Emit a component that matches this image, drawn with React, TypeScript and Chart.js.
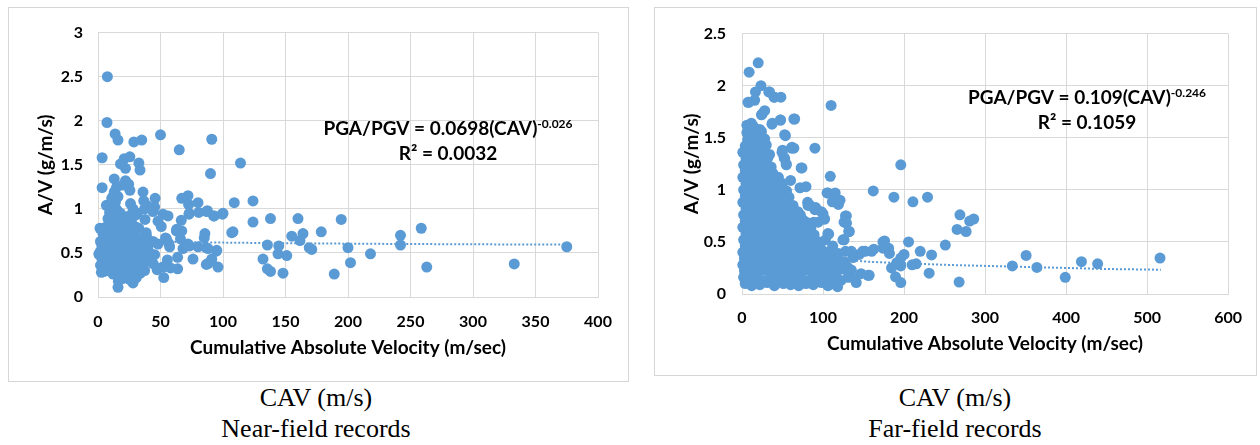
import React, { useEffect, useRef } from "react";
import { Chart, registerables } from "chart.js";

Chart.register(...registerables);

const BLUE = "#5B9BD5";
const GRID = "#D9D9D9";
const FONT = "Lato, 'Open Sans', sans-serif";
const SERIF = "'Liberation Serif', 'Times New Roman', serif";

type P = [number, number];

// ---------- Near-field records (CAV, A/V) ----------
const nearField: P[] = [
  [7.5, 2.5], [7.2, 1.98], [3.3, 1.58], [3.3, 1.24], [13.7, 1.85], [16, 1.78], [28.7, 1.76], [35, 1.78],
  [50, 1.84], [65, 1.67], [91, 1.79], [90, 1.4], [114, 1.52], [32.7, 1.52], [33.6, 1.44], [21, 1.57],
  [25.5, 1.59], [18, 1.51], [22, 1.46], [13, 1.34], [22, 1.32], [24.5, 1.28], [14.7, 1.24], [25.5, 1.21],
  [36, 1.19], [45.7, 1.12], [36.6, 1.09], [26, 1.06], [67, 1.12], [72, 1.15], [72.5, 1.05], [80, 1.07],
  [109, 1.07], [124, 1.09], [100, 0.95], [93, 0.92], [87.5, 0.98], [80.6, 0.96], [73, 0.95], [66.6, 0.87],
  [56, 0.92], [52, 0.94], [44, 0.97], [39, 1.04], [48, 0.86], [50.6, 0.8], [37.6, 0.88], [30, 0.93],
  [124, 0.85], [138, 0.89], [160, 0.89], [194.6, 0.88], [258.6, 0.78], [242, 0.7], [242, 0.59], [375, 0.57],
  [333, 0.375], [263, 0.34], [218, 0.49], [202, 0.39], [200, 0.56], [189, 0.26], [178.6, 0.74], [171, 0.54],
  [169, 0.56], [164, 0.72], [161.6, 0.64], [155, 0.69], [151, 0.47], [148, 0.27], [144, 0.49], [144.6, 0.58],
  [135.5, 0.59], [132, 0.43], [135.5, 0.32], [138, 0.29], [108, 0.74], [96, 0.34], [95, 0.53], [91, 0.43],
  [88, 0.38], [86.5, 0.56], [85.5, 0.72], [85, 0.67], [76, 0.43], [80, 0.57], [72, 0.6], [68, 0.55],
  [67, 0.75], [63, 0.77], [63.7, 0.45], [63.7, 0.32], [56.5, 0.61], [54, 0.67], [55.5, 0.42], [52, 0.34],
  [52.6, 0.22], [47.3, 0.31], [44, 0.38], [42.4, 0.49], [39, 0.53], [38.5, 0.73], [36, 0.67], [32.6, 0.78],
  [28.7, 0.77], [29.4, 0.6], [32.6, 0.49], [34, 0.27], [27.8, 0.21], [28, 0.16], [19.6, 0.21], [16.3, 0.18],
  [16, 0.11], [11.4, 0.31], [5, 0.29], [0.7, 0.49], [1.6, 0.78], [3.3, 0.38], [8, 0.89], [10, 1.04],
  [12.4, 1.15], [62.7, 0.75], [54.7, 0.66], [57.3, 0.57], [66, 0.66], [73.3, 0.58], [90.7, 0.41], [86.7, 0.37],
  [94.7, 0.52], [88, 0.55], [48, 0.33], [54.7, 0.35], [58, 0.33], [45.3, 0.48], [44, 0.63], [48, 0.6],
  [38.7, 0.7], [33.3, 0.48], [37.3, 0.3], [30.7, 0.22], [25.3, 0.2], [20, 0.26], [12, 0.26], [6.7, 0.33],
  [2.7, 0.28], [1, 0.48], [6.7, 1.04], [11.5, 1.09], [20, 1.27], [28, 1.0], [31.5, 0.95], [30.7, 0.79],
  [37.3, 1.0], [45.3, 1.02], [72.8, 0.94], [99.5, 0.94], [107, 0.73], [92.5, 0.92], [87, 0.97], [9.3, 0.96],
  [13.3, 1.05],
  [4, 0.31], [9, 0.3], [14, 0.33], [18, 0.29], [23, 0.31], [27, 0.28], [31, 0.33],
  [2, 0.36], [6, 0.38], [11, 0.36], [15, 0.39], [20, 0.37], [24, 0.35], [29, 0.38], [34, 0.36], [38, 0.4],
  [3, 0.44], [7, 0.42], [10, 0.45], [13, 0.43], [17, 0.46], [21, 0.44], [26, 0.42], [30, 0.45], [35, 0.43], [40, 0.44],
  [2, 0.52], [5, 0.5], [9, 0.53], [12, 0.51], [15, 0.54], [19, 0.5], [22, 0.53], [27, 0.51], [31, 0.54], [36, 0.52],
  [3, 0.59], [6, 0.57], [10, 0.6], [13, 0.58], [17, 0.61], [21, 0.57], [24, 0.6], [28, 0.58], [33, 0.59], [40, 0.57],
  [2, 0.63], [5, 0.66], [8, 0.64], [12, 0.67], [16, 0.65], [19, 0.68], [23, 0.64], [26, 0.67], [31, 0.65],
  [4, 0.72], [7, 0.7], [11, 0.74], [14, 0.71], [18, 0.73], [22, 0.75], [25, 0.71], [29, 0.73],
  [6, 0.79], [10, 0.82], [13, 0.8], [16, 0.83], [20, 0.79], [24, 0.81], [27, 0.84],
  [11, 0.88], [14, 0.91], [17, 0.87], [21, 0.9], [25, 0.92],
  [12, 0.97], [15, 0.99], [18, 0.95],
  [11, 1.12], [14, 1.08], [16, 1.14], [13, 1.19],
];

// Power trendline of the near-field records
const nearTrendCAV = [1, 2, 5, 10, 25, 50, 100, 150, 200, 250, 300, 375];
const nearTrendAV = [0.7, 0.685, 0.67, 0.655, 0.64, 0.628, 0.617, 0.61, 0.605, 0.601, 0.598, 0.594];

// ---------- Far-field records (CAV, A/V) ----------
const farField: P[] = [
  [8.8, 2.13], [20, 2.22], [23.4, 2.0], [8.3, 1.84], [16.6, 1.94], [15.6, 1.86], [34, 1.94], [40, 1.89],
  [48, 1.89], [28, 1.76], [25, 1.73], [37.5, 1.64], [47.7, 1.67], [65, 1.68], [110, 1.81], [53.6, 1.52],
  [64, 1.4], [61, 1.4], [90, 1.4], [74, 1.21], [50, 1.38], [52, 1.31], [54.5, 1.25], [60, 1.09],
  [71.6, 1.02], [79, 1.03], [109, 1.13], [106, 0.97], [115, 0.97], [111.5, 0.885], [119, 0.86], [121, 0.9],
  [162, 0.99], [196, 1.24], [187.5, 0.93], [211, 0.885], [229, 0.93], [269, 0.76], [286, 0.72], [281, 0.7],
  [265.5, 0.62], [276.6, 0.6], [251, 0.47], [234, 0.375], [220, 0.41], [205.6, 0.5], [231, 0.2], [268, 0.115],
  [333.7, 0.27], [350.7, 0.37], [364, 0.255], [399, 0.16], [419, 0.31], [439, 0.29], [516, 0.345], [196, 0.11],
  [189.5, 0.165], [176, 0.51], [181, 0.44], [182, 0.39], [196, 0.345], [200, 0.38], [191, 0.3], [215, 0.29],
  [210, 0.28], [196, 0.27], [184.6, 0.25], [157, 0.18], [147, 0.195], [141, 0.11], [131.5, 0.165], [135, 0.23],
  [162.7, 0.43], [152, 0.41], [144.7, 0.38], [137, 0.35], [132.5, 0.6], [126, 0.52], [129, 0.68], [127.7, 0.75],
  [107, 0.575], [101, 0.72], [98, 0.79], [91, 0.83], [84, 0.85], [81, 0.88], [88.6, 0.69], [79, 0.63],
  [74, 0.72], [108, 0.41], [118, 0.32], [115.4, 0.2], [108, 0.09], [118, 0.07],
  [7.4, 1.84], [33, 1.94], [39.5, 1.89], [24, 1.72], [37, 1.63], [47.3, 1.67], [64, 1.68], [11.5, 1.64],
  [9.5, 1.59], [15.6, 1.56], [24, 1.56], [28, 1.49], [52.7, 1.53], [61.7, 1.41], [49.4, 1.36], [52.7, 1.3],
  [54.7, 1.24], [73, 1.21], [105, 0.97], [114, 0.96], [118.5, 0.88], [81.5, 0.85], [90, 0.81], [100, 0.77],
  [102, 0.72], [67, 0.75], [73, 0.69], [83.5, 0.68], [94, 0.69], [128.8, 0.75], [126, 0.69], [131.7, 0.6],
  [124.6, 0.52], [106, 0.58], [135, 0.41], [149, 0.41], [160, 0.41], [114, 0.38], [112, 0.35], [155.6, 0.18],
  [139, 0.146], [131, 0.16], [174, 0.5], [174, 0.44],
  [4, 0.1], [12, 0.08], [22, 0.09], [31, 0.11], [40, 0.08], [51, 0.1], [60, 0.09], [70, 0.08], [79, 0.1], [88, 0.09], [98, 0.11], [106, 0.08], [114, 0.1],
  [2, 0.16], [9, 0.14], [17, 0.15], [26, 0.13], [35, 0.16], [45, 0.15], [55, 0.14], [64, 0.16], [73, 0.15], [83, 0.13], [92, 0.16], [101, 0.14], [112, 0.15], [122, 0.13],
  [3, 0.22], [11, 0.2], [20, 0.21], [29, 0.23], [38, 0.2], [48, 0.22], [57, 0.21], [67, 0.19], [76, 0.22], [86, 0.21], [95, 0.2], [104, 0.22], [117, 0.21], [126, 0.24],
  [1, 0.28], [8, 0.26], [16, 0.27], [25, 0.29], [33, 0.26], [43, 0.28], [52, 0.27], [62, 0.25], [71, 0.28], [80, 0.27], [90, 0.26], [99, 0.28], [109, 0.27], [121, 0.29], [130, 0.26],
  [3, 0.34], [12, 0.32], [21, 0.33], [30, 0.35], [39, 0.32], [48, 0.34], [58, 0.33], [67, 0.31], [77, 0.34], [86, 0.33], [96, 0.32], [105, 0.34], [116, 0.33], [126, 0.31],
  [1, 0.4], [9, 0.38], [18, 0.39], [27, 0.41], [36, 0.38], [45, 0.4], [54, 0.39], [63, 0.37], [73, 0.4], [82, 0.39], [92, 0.38], [101, 0.4], [119, 0.39], [128, 0.41],
  [4, 0.46], [13, 0.44], [22, 0.45], [31, 0.47], [40, 0.44], [50, 0.46], [59, 0.45], [68, 0.43], [78, 0.46], [88, 0.45], [97, 0.44], [112, 0.46],
  [2, 0.52], [10, 0.5], [19, 0.51], [28, 0.53], [37, 0.5], [46, 0.52], [55, 0.51], [65, 0.49], [74, 0.52], [84, 0.51], [95, 0.5], [103, 0.52],
  [5, 0.58], [14, 0.56], [23, 0.57], [32, 0.59], [41, 0.56], [51, 0.58], [60, 0.57], [70, 0.55], [79, 0.58], [89, 0.57],
  [1, 0.64], [9, 0.62], [18, 0.63], [27, 0.65], [36, 0.62], [45, 0.64], [55, 0.63], [64, 0.61], [75, 0.64], [85, 0.63],
  [4, 0.7], [13, 0.68], [22, 0.69], [31, 0.71], [40, 0.68], [49, 0.7], [58, 0.69], [68, 0.67], [77, 0.7],
  [2, 0.76], [10, 0.74], [19, 0.75], [28, 0.77], [37, 0.74], [46, 0.76], [55, 0.75], [64, 0.73], [72, 0.76],
  [5, 0.82], [14, 0.8], [23, 0.81], [32, 0.83], [41, 0.8], [50, 0.82], [60, 0.81], [69, 0.79],
  [1, 0.88], [9, 0.86], [18, 0.87], [27, 0.89], [36, 0.86], [45, 0.88], [54, 0.87], [63, 0.85],
  [4, 0.94], [13, 0.92], [22, 0.93], [31, 0.95], [40, 0.92], [50, 0.94], [58, 0.93],
  [2, 1.0], [10, 0.98], [19, 0.99], [28, 1.01], [37, 0.98], [46, 1.0], [55, 0.99],
  [5, 1.06], [14, 1.04], [23, 1.05], [32, 1.07], [41, 1.04], [50, 1.06],
  [1, 1.12], [9, 1.1], [18, 1.11], [27, 1.13], [36, 1.1], [45, 1.12],
  [4, 1.18], [13, 1.16], [22, 1.17], [31, 1.19], [38, 1.16],
  [2, 1.24], [10, 1.22], [19, 1.23], [28, 1.25], [36, 1.22],
  [5, 1.3], [14, 1.28], [23, 1.29], [32, 1.31],
  [1, 1.36], [9, 1.34], [18, 1.35], [27, 1.37], [34, 1.34],
  [4, 1.42], [12, 1.4], [21, 1.41], [30, 1.43],
  [7, 1.48], [16, 1.46], [25, 1.47],
  [11, 1.54], [20, 1.52], [6, 1.55],
  [14, 1.61], [6, 1.62], [22, 1.58],
];

// Power trendline of the far-field records
const farTrendCAV = [1, 3, 6, 12, 25, 50, 100, 155, 200, 250, 300, 350, 400, 450, 517];
const farTrendAV = [1.0, 0.79, 0.68, 0.57, 0.48, 0.41, 0.35, 0.31, 0.295, 0.28, 0.27, 0.26, 0.25, 0.24, 0.233];

const X_TITLE = "Cumulative Absolute Velocity (m/sec)";
const Y_TITLE = "A/V (g/m/s)";

const equationPlugin = {
  id: "equation",
  afterDraw(chart: any, _args: any, opts: any) {
    const ctx: CanvasRenderingContext2D = chart.ctx;
    const main = `bold ${opts.size}px ${FONT}`;
    const sup = `bold ${opts.supSize}px ${FONT}`;
    ctx.save();
    ctx.fillStyle = "#000";
    ctx.textBaseline = "alphabetic";
    ctx.font = main;
    const w1 = ctx.measureText(opts.eq).width;
    ctx.font = sup;
    const w2 = ctx.measureText(opts.exp).width;
    const x0 = opts.cx - (w1 + w2) / 2;
    const b1 = opts.y1 + opts.size * 0.36;
    ctx.font = main;
    ctx.textAlign = "left";
    ctx.fillText(opts.eq, x0, b1);
    ctx.font = sup;
    ctx.fillText(opts.exp, x0 + w1, b1 - 7);
    ctx.font = main;
    ctx.textAlign = "center";
    ctx.fillText(opts.r2, opts.cx, opts.y2 + opts.size * 0.36);
    ctx.restore();
  },
};

interface PanelProps {
  left: number;
  top: number;
  width: number;
  height: number;
  points: P[];
  trendX: number[];
  trendY: number[];
  xMax: number;
  xStep: number;
  yMax: number;
  plot: { left: number; top: number; right: number; bottom: number };
  yTitlePad: number;
  xTitlePad: number;
  yTickPad: number;
  xTickPad: number;
  eq: string;
  exp: string;
  r2: string;
  ann: { cx: number; y1: number; y2: number };
}

function ScatterPanel(p: PanelProps) {
  const ref = useRef<HTMLCanvasElement>(null);
  useEffect(() => {
    const tickFont = { family: FONT, size: 16, weight: "bold" as const };
    const titleFont = { family: FONT, size: 19, weight: "bold" as const, lineHeight: 1.2 };
    const chart = new Chart(ref.current!, {
      type: "scatter",
      data: {
        datasets: [
          {
            data: p.points.map(([x, y]) => ({ x, y })),
            backgroundColor: BLUE,
            borderColor: BLUE,
            pointRadius: 5.5,
            pointHoverRadius: 5.5,
            pointBorderWidth: 0,
            clip: false as any,
          },
          {
            data: p.trendX.map((x, i) => ({ x, y: p.trendY[i] })),
            showLine: true,
            borderColor: BLUE,
            backgroundColor: BLUE,
            borderWidth: 2,
            borderDash: [2, 2],
            pointRadius: 0,
            tension: 0,
            fill: false,
            clip: false as any,
          },
        ],
      },
      options: {
        responsive: false,
        animation: false,
        devicePixelRatio: 1,
        events: [],
        layout: {
          padding: { left: 0, top: p.plot.top, right: p.width - p.plot.right, bottom: 0 },
        },
        plugins: {
          legend: { display: false },
          tooltip: { enabled: false },
          equation: { eq: p.eq, exp: p.exp, r2: p.r2, cx: p.ann.cx, y1: p.ann.y1, y2: p.ann.y2, size: 19, supSize: 12 },
        } as any,
        scales: {
          x: {
            type: "linear",
            min: 0,
            max: p.xMax,
            ticks: {
              stepSize: p.xStep,
              padding: p.xTickPad,
              font: tickFont,
              color: "#000",
              callback: (v: any) => String(v),
            },
            grid: { color: GRID, drawTicks: false, lineWidth: 1 },
            border: { color: GRID },
            title: {
              display: true,
              text: X_TITLE,
              font: titleFont,
              color: "#000",
              padding: { top: 0, bottom: p.xTitlePad },
            },
            afterFit: (s: any) => {
              s.height = p.height - p.plot.bottom;
            },
          },
          y: {
            type: "linear",
            min: 0,
            max: p.yMax,
            ticks: {
              stepSize: 0.5,
              padding: p.yTickPad,
              font: tickFont,
              color: "#000",
              callback: (v: any) => String(v),
            },
            grid: { color: GRID, drawTicks: false, lineWidth: 1 },
            border: { color: GRID },
            title: {
              display: true,
              text: Y_TITLE,
              font: titleFont,
              color: "#000",
              padding: { top: p.yTitlePad, bottom: 0 },
            },
            afterFit: (s: any) => {
              s.width = p.plot.left;
            },
          },
        },
      },
      plugins: [equationPlugin],
    });
    return () => chart.destroy();
  }, []);

  return (
    <div
      style={{
        position: "absolute",
        left: p.left,
        top: p.top,
        width: p.width,
        height: p.height,
        border: "1px solid #D6D6D6",
        background: "#fff",
      }}
    >
      <canvas ref={ref} width={p.width} height={p.height} style={{ display: "block", width: p.width, height: p.height }} />
    </div>
  );
}

function Caption({ cx, lines }: { cx: number; lines: string[] }) {
  return (
    <div
      style={{
        position: "absolute",
        left: cx - 200,
        top: 382,
        width: 400,
        textAlign: "center",
        fontFamily: SERIF,
        fontSize: 26,
        lineHeight: "31px",
        color: "#000",
      }}
    >
      {lines.map((l, i) => (
        <div key={i}>{l}</div>
      ))}
    </div>
  );
}

export default function App() {
  return (
    <div style={{ position: "absolute", left: 0, top: 0, width: 1260, height: 445, background: "#fff", overflow: "hidden" }}>
      <ScatterPanel
        left={8}
        top={7}
        width={619}
        height={373}
        points={nearField}
        trendX={nearTrendCAV}
        trendY={nearTrendAV}
        xMax={400}
        xStep={50}
        yMax={3}
        plot={{ left: 89, top: 18, right: 589, bottom: 289 }}
        yTitlePad={25}
        xTitlePad={22}
        yTickPad={15}
        xTickPad={15}
        eq="PGA/PGV = 0.0698(CAV)"
        exp="-0.026"
        r2="R² = 0.0032"
        ann={{ cx: 439, y1: 120, y2: 145 }}
      />
      <ScatterPanel
        left={654}
        top={7}
        width={601}
        height={367}
        points={farField}
        trendX={farTrendCAV}
        trendY={farTrendAV}
        xMax={600}
        xStep={100}
        yMax={2.5}
        plot={{ left: 87, top: 18, right: 574, bottom: 286 }}
        yTitlePad={25}
        xTitlePad={20}
        yTickPad={16}
        xTickPad={14}
        eq="PGA/PGV = 0.109(CAV)"
        exp="-0.246"
        r2="R² = 0.1059"
        ann={{ cx: 432, y1: 89, y2: 114 }}
      />
      <Caption cx={316} lines={["CAV (m/s)", "Near-field records"]} />
      <Caption cx={955} lines={["CAV (m/s)", "Far-field records"]} />
    </div>
  );
}
